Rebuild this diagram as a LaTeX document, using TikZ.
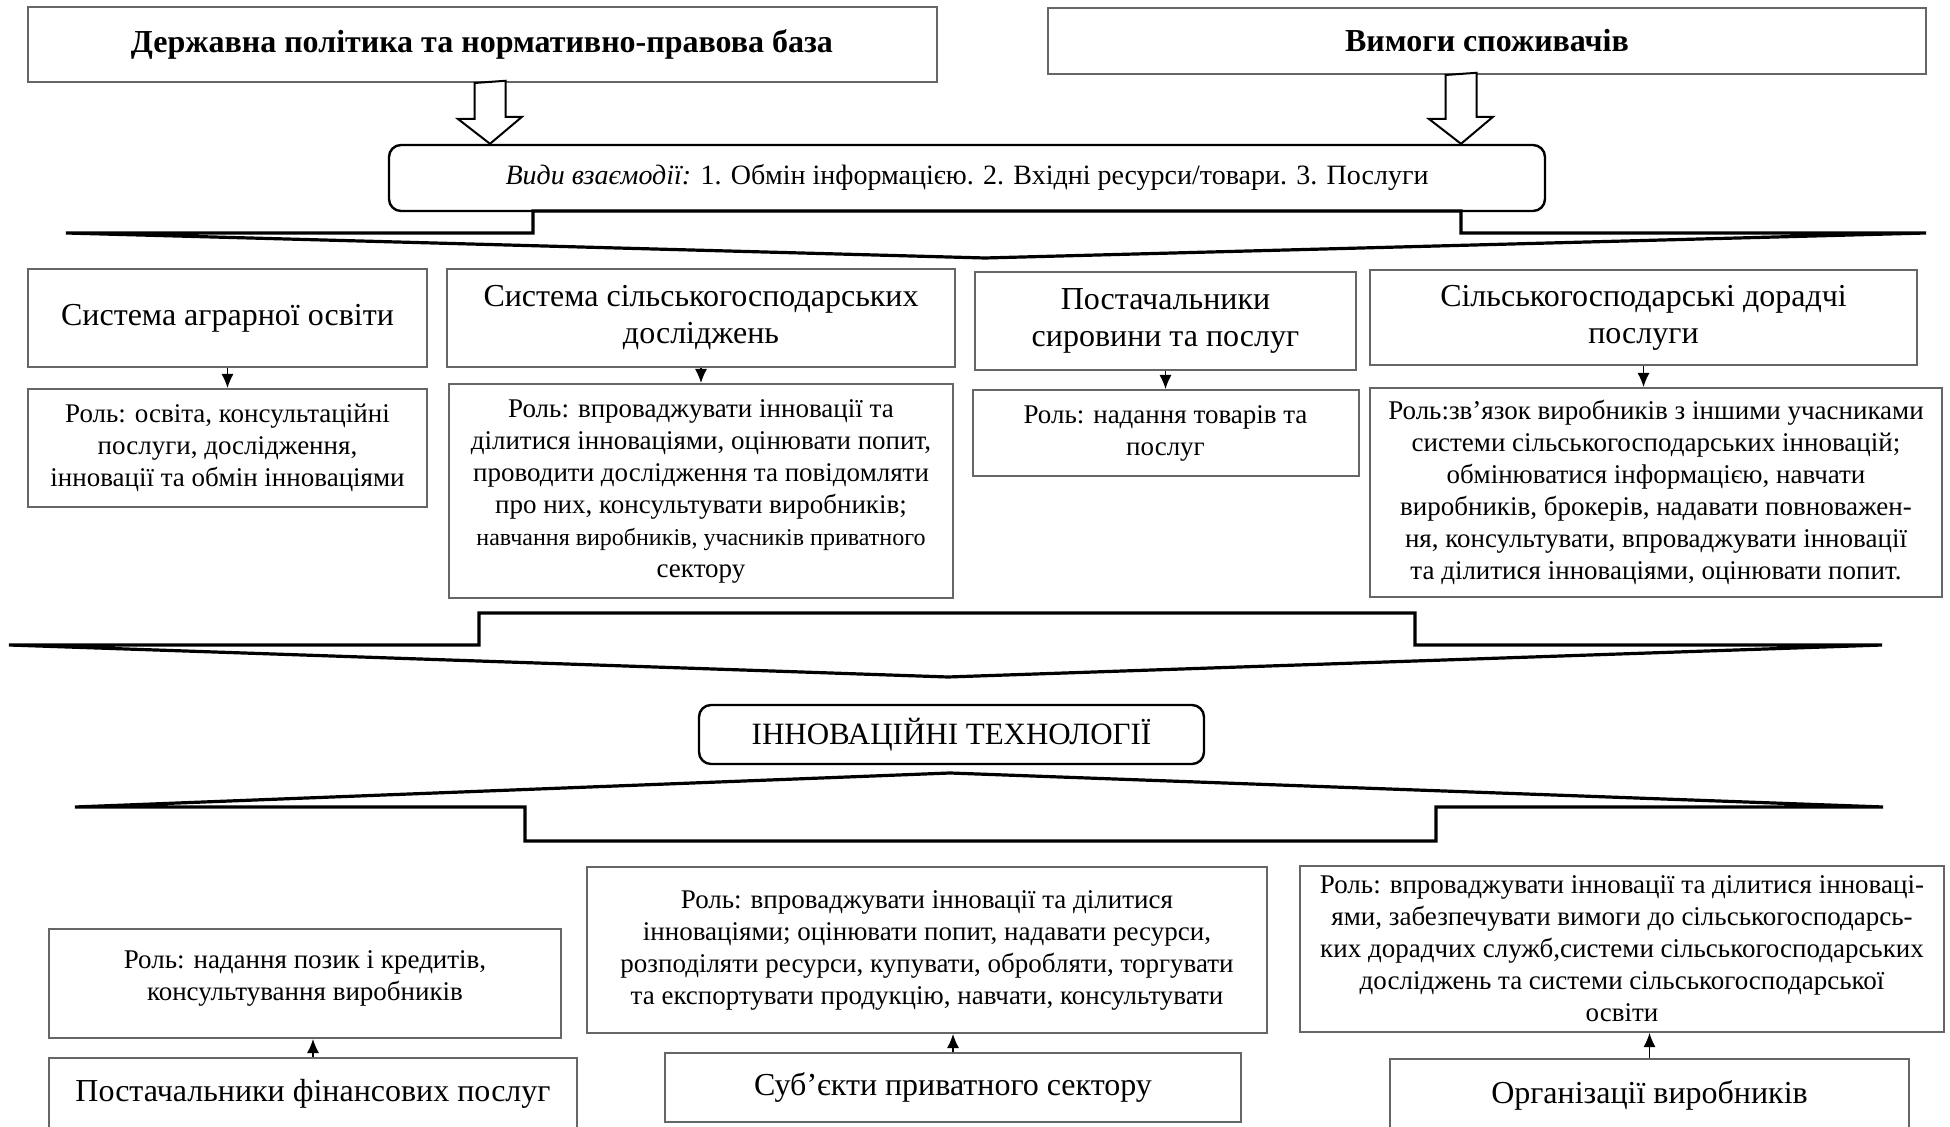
\documentclass[tikz,border=0pt]{standalone}
\usepackage{fontspec}
\setmainfont{Liberation Serif}
\usetikzlibrary{positioning,calc,arrows.meta}

\tikzstyle{block} = [draw=black!60, line width=1pt, rectangle, align=center, inner sep=2pt]
\tikzstyle{head} = [block, font=\fontsize{16}{18.5}\selectfont]
\tikzstyle{role} = [block, font=\fontsize{13.5}{16}\selectfont]
\tikzstyle{rbox} = [draw, line width=1.2pt, rounded corners=6pt, align=center]
\tikzstyle{callout} = [draw, line width=1.6pt, line join=miter]
\tikzstyle{hollow} = [draw, fill=white, line width=1pt]

\begin{document}
\begin{tikzpicture}[x=0.5pt, y=-0.5pt, >={Latex[length=7pt,width=6pt]}]
  \useasboundingbox (0,0) rectangle (1950,1127);
  \clip (0,0) rectangle (1950,1127);

  % top: sources of requirements
  \node [head, font=\fontsize{16}{18.5}\selectfont\bfseries, minimum width=454.5pt, minimum height=37.5pt] (gov) at (482,44.5) {Державна політика та нормативно-правова база};
  \node [head, font=\fontsize{16}{18.5}\selectfont\bfseries, minimum width=439pt, minimum height=33pt] (cons) at (1487,41) {Вимоги споживачів};
  \node [rbox, font=\fontsize{14}{16}\selectfont, minimum width=578pt, minimum height=33pt] (inter) at (967,178) {\textit{Види взаємодії:} 1. Обмін інформацією. 2. Вхідні ресурси/товари. 3. Послуги};

  \coordinate (g) at ($(gov.south)+(8,0)$);
  \coordinate (c) at ($(cons.south)+(-26,0)$);
  \draw [hollow] (g) ++(-15.5,0) -- ++(0,36) -- ++(-16.5,0) -- (g |- inter.north) -- ++(32,-27) -- ++(-16.5,0) -- ++(0,-36) -- cycle;
  \draw [hollow] (c) ++(-15.5,0) -- ++(0,44) -- ++(-16.5,0) -- (c |- inter.north) -- ++(32,-27) -- ++(-16.5,0) -- ++(0,-44) -- cycle;

  \draw [callout] (66,233) -- (533,233) -- (533,211) -- (1461,211) -- (1461,233) -- (1926,233) -- (985,258) -- cycle;

  % actors of the system
  \node [head, minimum width=199.5pt, minimum height=49pt] (hA) at (227.5,318) {Система аграрної освіти};
  \node [head, minimum width=254pt, minimum height=49pt] (hB) at (701,318) {Система сільськогосподарських\\досліджень};
  \node [head, minimum width=190.5pt, minimum height=49pt] (hC) at (1165.5,321) {Постачальники\\сировини та послуг};
  \node [head, minimum width=273.5pt, minimum height=47.5pt] (hD) at (1643.5,317.5) {Сільськогосподарські дорадчі\\послуги};

  \node [role, below of=hA, node distance=65pt, minimum width=199.5pt, minimum height=59pt] (rA) {Роль: освіта, консультаційні\\послуги, дослідження,\\інновації та обмін інноваціями};
  \node [role, below of=hB, node distance=86.5pt, minimum width=252pt, minimum height=107pt] (rB) {Роль: впроваджувати інновації та\\ділитися інноваціями, оцінювати попит,\\проводити дослідження та повідомляти\\про них, консультувати виробників;\\\fontsize{12}{15}\selectfont навчання виробників, учасників приватного\\сектору};
  \node [role, below of=hC, node distance=56pt, minimum width=193pt, minimum height=43pt] (rC) {Роль: надання товарів та\\послуг};
  \node [role, below of=hD, node distance=87.5pt, xshift=6.25pt, minimum width=286pt, minimum height=104.5pt] (rD) {Роль:зв’язок виробників з іншими учасниками\\системи сільськогосподарських інновацій;\\обмінюватися інформацією, навчати\\виробників, брокерів, надавати повноважен-\\ня, консультувати, впроваджувати інновації\\та ділитися інноваціями, оцінювати попит.};

  \draw [->, semithick] (hA.south) -- (hA.south |- rA.north);
  \draw [->, semithick] (hB.south) -- (hB.south |- rB.north);
  \draw [->, semithick] (hC.south) -- (hC.south |- rC.north);
  \draw [->, semithick] (hD.south) -- (hD.south |- rD.north);

  \draw [callout] (9,645) -- (479,645) -- (479,613) -- (1415,613) -- (1415,645) -- (1882,645) -- (948,677) -- cycle;
  \node [rbox, font=\fontsize{15.5}{17}\selectfont, minimum width=252.5pt, minimum height=29.5pt] (innov) at (951.5,734.5) {ІННОВАЦІЙНІ ТЕХНОЛОГІЇ};
  \draw [callout] (75,807) -- (525,807) -- (525,841) -- (1436,841) -- (1436,807) -- (1883,807) -- (950,773) -- cycle;

  % bottom actors
  \node [head, minimum width=264pt, minimum height=36pt] (eF) at (313,1094) {Постачальники фінансових послуг};
  \node [head, minimum width=288pt, minimum height=34.5pt] (eP) at (953,1087.5) {Суб’єкти приватного сектору};
  \node [head, minimum width=259.5pt, minimum height=36pt] (eO) at (1649.5,1095) {Організації виробників};

  \node [role, above of=eF, node distance=55.25pt, xshift=-4pt, minimum width=256pt, minimum height=54.5pt] (rF) {Роль: надання позик і кредитів,\\консультування виробників\\[-8.5pt]};
  \node [role, above of=eP, node distance=68.75pt, xshift=-13pt, minimum width=340pt, minimum height=83pt] (rP) {Роль: впроваджувати інновації та ділитися\\інноваціями; оцінювати попит, надавати ресурси,\\розподіляти ресурси, купувати, обробляти, торгувати\\та експортувати продукцію, навчати, консультувати};
  \node [role, above of=eO, node distance=73pt, xshift=-13.75pt, minimum width=322pt, minimum height=83pt] (rO) {Роль: впроваджувати інновації та ділитися інноваці-\\ями, забезпечувати вимоги до сільськогосподарсь-\\ких дорадчих служб,системи сільськогосподарських\\досліджень та системи сільськогосподарської\\освіти};

  \draw [->, semithick] (eF.north) -- (eF.north |- rF.south);
  \draw [->, semithick] (eP.north) -- (eP.north |- rP.south);
  \draw [->, semithick] (eO.north) -- (eO.north |- rO.south);
\end{tikzpicture}
\end{document}
